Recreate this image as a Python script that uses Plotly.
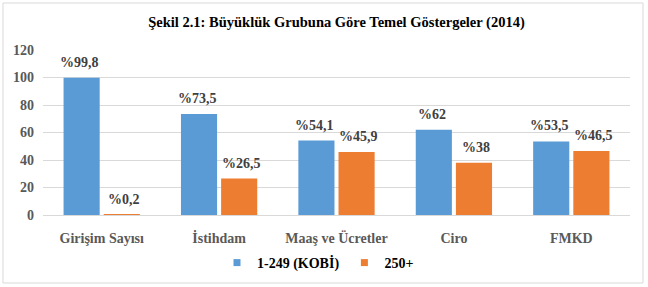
import plotly.graph_objects as go

categories = ["Girişim Sayısı", "İstihdam", "Maaş ve Ücretler", "Ciro", "FMKD"]
kobi = [99.8, 73.5, 54.1, 62, 53.5]
buyuk = [0.2, 26.5, 45.9, 38, 46.5]
kobi_labels = ["%99,8", "%73,5", "%54,1", "%62", "%53,5"]
buyuk_labels = ["%0,2", "%26,5", "%45,9", "%38", "%46,5"]
series_names = ["1-249 (KOBİ)", "250+"]
y_ticks = [0, 20, 40, 60, 80, 100, 120]

BLUE = "#5b9bd5"
ORANGE = "#ed7d31"
FONT = "Liberation Serif, Times New Roman, serif"

fig = go.Figure()
fig.add_trace(go.Bar(name=series_names[0], x=categories, y=kobi, marker=dict(color=BLUE, line=dict(width=0)),
                     offsetgroup="a", showlegend=False))
fig.add_trace(go.Bar(name=series_names[1], x=categories, y=buyuk, marker=dict(color=ORANGE, line=dict(width=0)),
                     offsetgroup="b", showlegend=False))
# legend proxies with small square markers
for name, col in zip(series_names, [BLUE, ORANGE]):
    fig.add_trace(go.Scatter(name=name, x=[None], y=[None], mode="markers",
                             marker=dict(symbol="square", size=7, color=col), showlegend=True))

annotations = []
for i, c in enumerate(categories):
    annotations.append(dict(x=c, y=kobi[i], text=kobi_labels[i], xref="x", yref="y", showarrow=False,
                            yanchor="bottom", yshift=6, xshift=-22,
                            font=dict(family=FONT, size=14, color="#404040", weight="bold")))
    annotations.append(dict(x=c, y=buyuk[i], text=buyuk_labels[i], xref="x", yref="y", showarrow=False,
                            yanchor="bottom", yshift=6, xshift=22,
                            font=dict(family=FONT, size=14, color="#404040", weight="bold")))

L, R, T, B = 43, 18, 50, 72
W, H = 648, 287
pw, ph = W - L - R, H - T - B
x0 = (3 - L) / pw
x1 = (W - 5 - L) / pw
y1 = (H - B - 3) / ph
y0 = (H - B - (H - 4)) / ph

fig.update_layout(
    width=W, height=H,
    margin=dict(l=L, r=R, t=T, b=B, autoexpand=False),
    paper_bgcolor="white", plot_bgcolor="white",
    barmode="group", bargap=0.316, bargroupgap=0.1,
    title=dict(text="Şekil 2.1: Büyüklük Grubuna Göre Temel Göstergeler (2014)",
               x=0.5, xref="paper", y=1 - 22 / H, yanchor="middle",
               font=dict(family=FONT, size=14.5, color="#000000", weight="bold")),
    font=dict(family=FONT),
    showlegend=True,
    legend=dict(orientation="h", x=0.5 - 6 / W, xanchor="center", xref="container",
                y=1 - 263 / H, yref="container", yanchor="middle",
                font=dict(family=FONT, size=14, color="#000000", weight="bold"),
                itemwidth=30, traceorder="normal", tracegroupgap=0),
    annotations=annotations,
    shapes=[dict(type="rect", xref="paper", yref="paper", x0=x0, x1=x1, y0=y0, y1=y1,
                 line=dict(color="#d9d9d9", width=1), fillcolor="rgba(0,0,0,0)", layer="below")],
)
fig.update_xaxes(showgrid=False, showline=True, linecolor="#d9d9d9", linewidth=1,
                 ticks="outside", ticklen=0, tickcolor="white", ticklabelstandoff=10,
                 tickfont=dict(family=FONT, size=14, color="#595959", weight="bold"))
fig.update_yaxes(range=[0, 120], tickvals=y_ticks, showgrid=True, gridcolor="#d9d9d9", gridwidth=1,
                 zeroline=False, showline=False, ticks="", ticklabelstandoff=8,
                 tickfont=dict(family=FONT, size=14, color="#595959", weight="bold"))

fig.write_html("out.html")
